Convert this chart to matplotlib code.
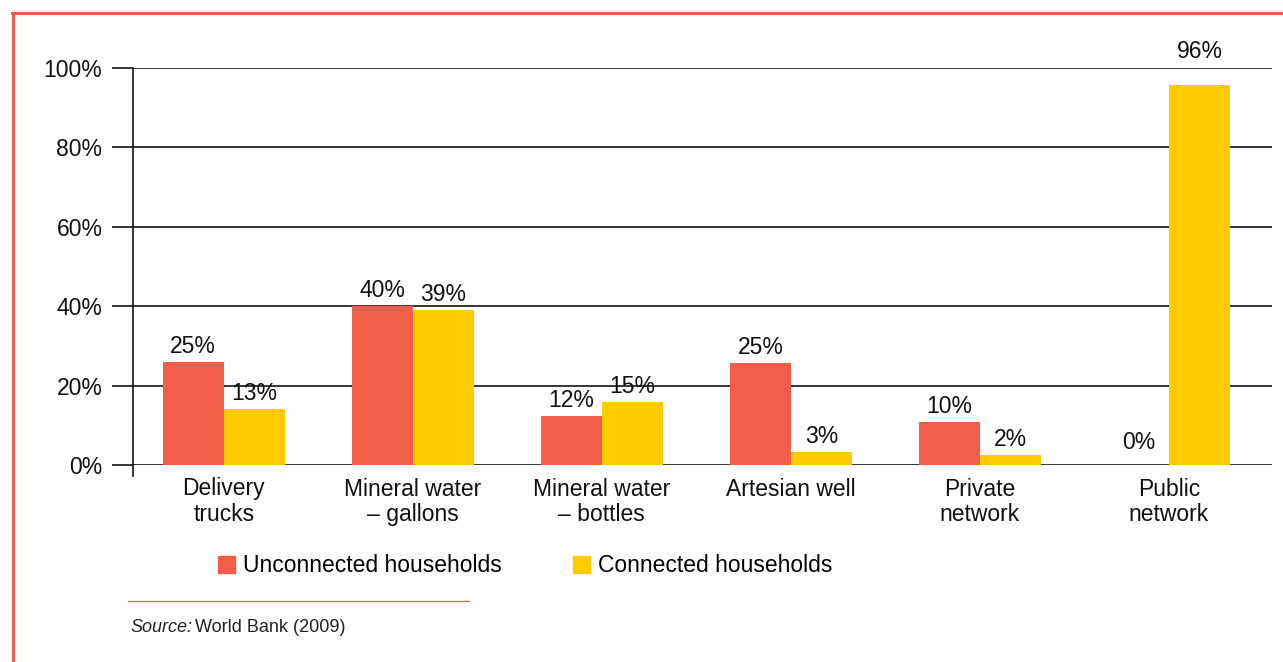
import matplotlib.pyplot as plt
import numpy as np
from matplotlib.lines import Line2D
from matplotlib.patches import Patch

categories = ["Delivery\ntrucks", "Mineral water\n– gallons", "Mineral water\n– bottles",
              "Artesian well", "Private\nnetwork", "Public\nnetwork"]
unconnected = [26, 40, 12.3, 25.7, 10.8, 0]
connected = [14, 39, 15.9, 3.3, 2.5, 95.7]
unconnected_lbl = ["25%", "40%", "12%", "25%", "10%", "0%"]
connected_lbl = ["13%", "39%", "15%", "3%", "2%", "96%"]
yticks = [0, 20, 40, 60, 80, 100]

red = "#F15F4B"
yellow = "#FDCB00"
frame_red = "#EF5E4C"
fs = 16.5

plt.rcParams['font.family'] = ['Liberation Sans', 'DejaVu Sans']

fig = plt.figure(figsize=(12.83, 6.62), dpi=100)
ax = fig.add_axes([133/1283, 1 - 465/662, (1272-133)/1283, (465-68)/662])

x = np.arange(len(categories))
w = 0.323
b1 = ax.bar(x - w/2, unconnected, w, color=red, zorder=3)
b2 = ax.bar(x + w/2, connected, w, color=yellow, zorder=3)

for bars, lbls in ((b1, unconnected_lbl), (b2, connected_lbl)):
    for r, t in zip(bars, lbls):
        h = r.get_height()
        off = 3
        if h == 0:
            off = 8
        elif h > 90:
            off = 16
        ax.annotate(t, (r.get_x() + r.get_width()/2, h),
                    xytext=(0, off), textcoords="offset points",
                    ha="center", va="bottom", fontsize=fs, color="#111111")

ax.set_xlim(-0.48, 5.545)
ax.set_ylim(0, 100)
ax.set_yticks(yticks)
ax.set_yticklabels([f"{v}%" for v in yticks], fontsize=fs, color="#111111")
ax.tick_params(axis="y", length=15, width=1.1, pad=7, direction="out")
ax.set_xticks(x)
ax.set_xticklabels(categories, fontsize=fs, color="#111111", linespacing=1.12)
ax.tick_params(axis="x", length=0, pad=9)
for v in yticks:
    ax.axhline(v, color="black", lw=1.1, zorder=2)

for s in ["top", "right", "bottom"]:
    ax.spines[s].set_visible(False)
ax.spines["left"].set_bounds(-2.8, 100)
ax.spines["left"].set_linewidth(1.1)

handles = [Patch(color=red), Patch(color=yellow)]
fig.legend(handles, ["Unconnected households", "Connected households"],
           loc="center", bbox_to_anchor=(525/1283, 1 - 566/662), ncol=2,
           frameon=False, fontsize=fs, handlelength=0.75, handleheight=0.75,
           handletextpad=0.35, columnspacing=3.1)

# decorative frame and source line
fig.add_artist(Line2D([12/1283, 1], [1 - 13/662, 1 - 13/662], color=frame_red, lw=2.2))
fig.add_artist(Line2D([13/1283, 13/1283], [0, 1 - 13/662], color=frame_red, lw=2.2))
fig.add_artist(Line2D([128/1283, 469/1283], [1 - 601/662, 1 - 601/662], color=frame_red, lw=0.9))
fig.text(130/1283, 1 - 627/662, "Source:", fontsize=13, style="italic", va="center", color="#222222")
fig.text(195/1283, 1 - 627/662, "World Bank (2009)", fontsize=13, va="center", color="#222222")

fig.savefig("out.png", dpi=100)
